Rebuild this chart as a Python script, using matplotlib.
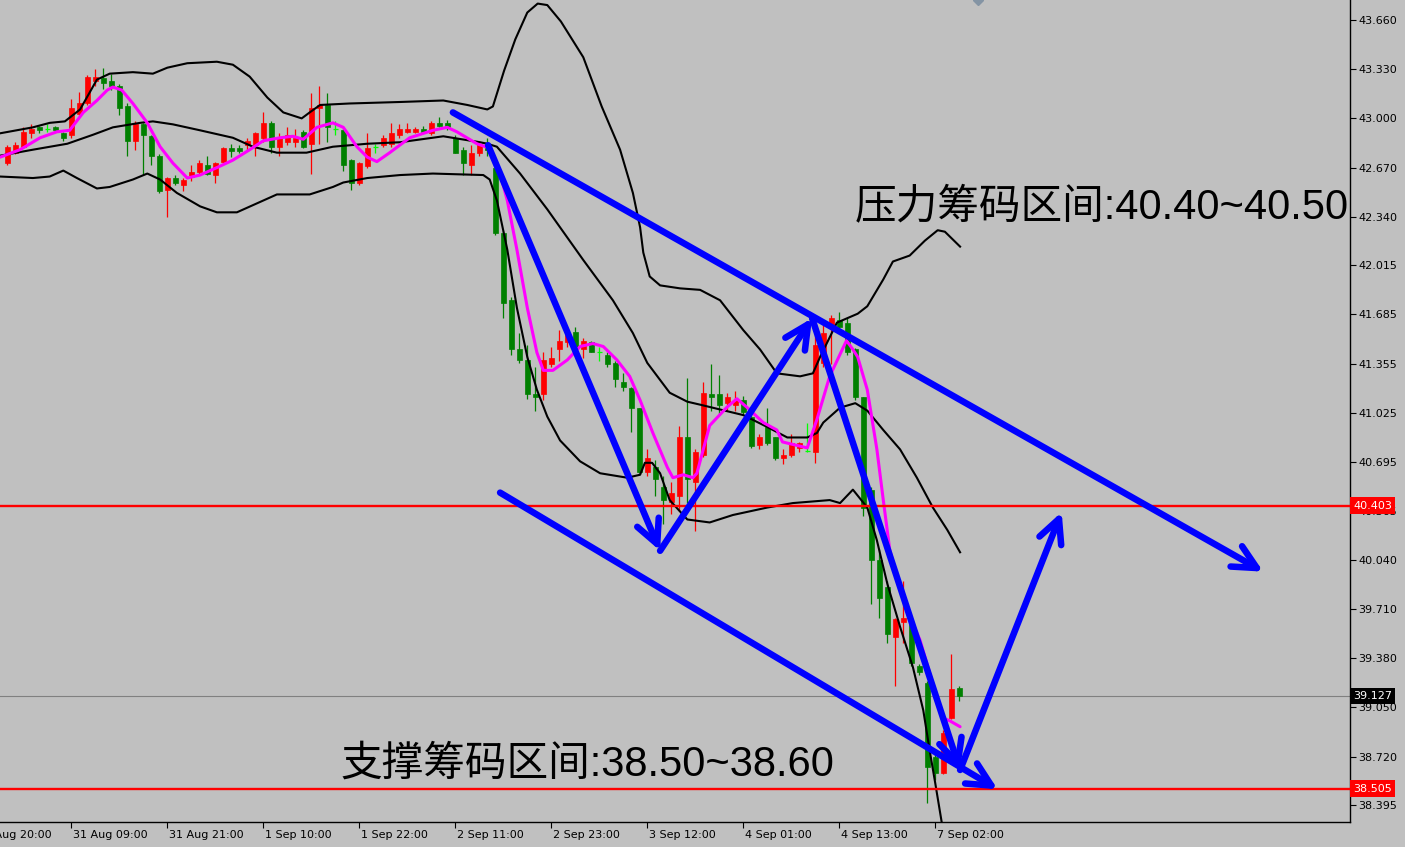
import matplotlib
matplotlib.use("Agg")
import matplotlib.pyplot as plt
import matplotlib.transforms as mtransforms

# H1 candles, bar 0 = first full bar at the left edge
opens = [42.70, 42.77, 42.81, 42.90, 42.94, 42.93, 42.94, 42.90, 42.89, 43.03,
         43.10, 43.25, 43.27, 43.25, 43.22, 43.08, 42.85, 42.96, 42.88, 42.75,
         42.52, 42.60, 42.55, 42.61, 42.64, 42.69, 42.62, 42.71, 42.80, 42.80,
         42.82, 42.82, 42.87, 42.97, 42.81, 42.84, 42.84, 42.91, 42.83, 43.07,
         43.09, 42.93, 42.92, 42.72, 42.57, 42.68, 42.81, 42.82, 42.83, 42.89,
         42.91, 42.91, 42.93, 42.90, 42.97, 42.97, 42.87, 42.79, 42.69, 42.77,
         42.83, 42.67, 42.23, 41.78, 41.45, 41.38, 41.15, 41.15, 41.35, 41.45,
         41.50, 41.57, 41.45, 41.50, 41.43, 41.41, 41.36, 41.23, 41.19, 41.06,
         40.63, 40.66, 40.53, 40.43, 40.47, 40.86, 40.56, 40.74, 41.15, 41.15,
         41.09, 41.08, 41.11, 41.00, 40.81, 40.93, 40.86, 40.72, 40.74, 40.79,
         40.77, 40.76, 41.36, 41.60, 41.65, 41.63, 41.45, 41.13, 40.51, 40.04,
         39.86, 39.52, 39.62, 39.62, 39.33, 39.21, 38.72, 38.61, 38.98, 39.18]
highs = [42.82, 42.84, 42.94, 42.96, 42.95, 42.96, 42.95, 42.91, 43.13, 43.18,
         43.29, 43.33, 43.34, 43.30, 43.23, 43.10, 42.98, 42.97, 42.89, 42.76,
         42.61, 42.62, 42.60, 42.69, 42.72, 42.75, 42.71, 42.81, 42.83, 42.82,
         42.87, 42.91, 43.04, 42.98, 42.90, 42.94, 42.93, 42.92, 43.17, 43.22,
         43.17, 42.98, 42.93, 42.73, 42.71, 42.90, 42.83, 42.89, 42.97, 42.96,
         42.97, 42.94, 42.95, 42.98, 43.01, 42.99, 42.89, 42.81, 42.82, 42.85,
         42.87, 42.72, 42.25, 41.80, 41.56, 41.48, 41.33, 41.43, 41.47, 41.58,
         41.58, 41.60, 41.53, 41.51, 41.47, 41.43, 41.37, 41.29, 41.20, 41.06,
         40.78, 40.71, 40.60, 40.56, 40.94, 41.26, 40.78, 41.23, 41.35, 41.28,
         41.16, 41.17, 41.14, 41.02, 40.88, 41.06, 40.86, 40.78, 40.88, 40.83,
         40.96, 41.62, 41.65, 41.68, 41.70, 41.66, 41.46, 41.13, 40.53, 40.11,
         39.90, 39.65, 39.90, 39.64, 39.34, 39.23, 38.74, 38.90, 39.41, 39.19]
lows = [42.69, 42.76, 42.80, 42.87, 42.90, 42.91, 42.91, 42.85, 42.87, 43.02,
        43.09, 43.22, 43.20, 43.19, 43.02, 42.75, 42.79, 42.62, 42.69, 42.50,
        42.34, 42.55, 42.51, 42.58, 42.63, 42.62, 42.57, 42.70, 42.74, 42.77,
        42.79, 42.75, 42.84, 42.77, 42.75, 42.82, 42.81, 42.80, 42.63, 42.83,
        42.84, 42.89, 42.65, 42.52, 42.55, 42.67, 42.77, 42.81, 42.81, 42.87,
        42.90, 42.90, 42.90, 42.89, 42.94, 42.92, 42.77, 42.62, 42.62, 42.75,
        42.75, 42.22, 41.66, 41.41, 41.36, 41.12, 41.04, 41.11, 41.33, 41.37,
        41.47, 41.45, 41.39, 41.43, 41.37, 41.33, 41.20, 41.17, 40.90, 40.62,
        40.60, 40.47, 40.28, 40.35, 40.37, 40.42, 40.23, 40.73, 41.04, 41.02,
        41.04, 41.04, 41.01, 40.79, 40.78, 40.81, 40.71, 40.68, 40.73, 40.76,
        40.76, 40.69, 41.33, 41.35, 41.58, 41.41, 41.11, 40.33, 39.74, 39.65,
        39.48, 39.19, 39.48, 39.33, 39.27, 38.41, 38.56, 38.60, 38.97, 39.09]
closes = [42.81, 42.82, 42.91, 42.93, 42.92, 42.93, 42.92, 42.87, 43.07, 43.10,
          43.28, 43.28, 43.24, 43.22, 43.07, 42.85, 42.96, 42.89, 42.75, 42.51,
          42.60, 42.57, 42.59, 42.64, 42.70, 42.63, 42.70, 42.80, 42.78, 42.78,
          42.85, 42.90, 42.97, 42.81, 42.87, 42.89, 42.87, 42.81, 43.07, 43.09,
          42.94, 42.93, 42.69, 42.57, 42.70, 42.80, 42.81, 42.87, 42.90, 42.93,
          42.93, 42.93, 42.91, 42.97, 42.95, 42.94, 42.77, 42.70, 42.77, 42.83,
          42.79, 42.23, 41.76, 41.45, 41.38, 41.15, 41.13, 41.38, 41.39, 41.51,
          41.55, 41.47, 41.51, 41.43, 41.43, 41.35, 41.25, 41.20, 41.06, 40.63,
          40.72, 40.58, 40.44, 40.49, 40.86, 40.58, 40.76, 41.16, 41.13, 41.08,
          41.13, 41.11, 41.03, 40.80, 40.86, 40.82, 40.72, 40.74, 40.82, 40.82,
          40.77, 41.48, 41.56, 41.66, 41.60, 41.43, 41.13, 40.39, 40.04, 39.78,
          39.54, 39.64, 39.65, 39.35, 39.29, 38.65, 38.61, 38.88, 39.17, 39.127]

# bollinger bands + fast MA, traced as (bar, price)
upper_x = [-0.9, 3.2, 5.3, 7.2, 9.1, 11.2, 12.8, 15.7, 18.2, 20.0, 22.5, 26.2, 28.2, 30.3,
           32.5, 34.5, 36.8, 37.8, 39.1, 42.8, 49.1, 54.5, 57.5, 60.0, 60.7, 62.1, 63.5,
           65.0, 66.3, 67.5, 69.2, 72.0, 74.3, 76.6, 78.2, 79.1, 79.5, 80.3, 81.6, 84.1,
           86.6, 89.1, 92.0, 94.1, 96.2, 99.1, 100.7, 101.6, 103.7, 106.3, 107.5, 109.5,
           110.7, 112.8, 114.7, 116.3, 117.2, 119.1]
upper_y = [42.90, 42.94, 42.97, 42.98, 43.06, 43.26, 43.30, 43.31, 43.30, 43.34, 43.37,
           43.38, 43.36, 43.28, 43.14, 43.04, 43.00, 43.04, 43.09, 43.10, 43.11, 43.12,
           43.09, 43.06, 43.08, 43.32, 43.53, 43.71, 43.77, 43.76, 43.65, 43.41, 43.08,
           42.79, 42.50, 42.27, 42.10, 41.94, 41.88, 41.86, 41.85, 41.78, 41.58, 41.45,
           41.29, 41.27, 41.29, 41.40, 41.63, 41.69, 41.74, 41.92, 42.04, 42.08, 42.18,
           42.25, 42.24, 42.14]
mid_x = [-0.9, 3.2, 7.5, 10.7, 13.2, 16.6, 18.2, 20.7, 24.1, 28.2, 30.7, 33.7, 37.4, 40.7,
         45.0, 49.1, 54.5, 59.1, 60.0, 61.2, 64.1, 67.5, 72.0, 75.7, 78.2, 80.0, 82.8, 85.0,
         86.6, 92.0, 95.0, 97.5, 100.0, 101.2, 102.0, 104.1, 106.0, 107.5, 109.5, 111.6,
         113.7, 115.7, 117.5, 119.1]
mid_y = [42.75, 42.79, 42.83, 42.89, 42.94, 42.97, 42.98, 42.96, 42.92, 42.87, 42.81,
         42.77, 42.77, 42.81, 42.83, 42.84, 42.88, 42.84, 42.83, 42.81, 42.63, 42.39,
         42.05, 41.78, 41.56, 41.36, 41.16, 41.10, 41.08, 41.01, 40.93, 40.86, 40.86,
         40.89, 40.96, 41.06, 41.09, 41.04, 40.91, 40.78, 40.59, 40.39, 40.24, 40.09]
low_x = [-0.9, 3.2, 5.3, 7.0, 8.7, 11.2, 12.8, 15.7, 17.5, 19.1, 21.2, 24.1, 26.2, 28.7,
         31.2, 33.7, 37.8, 40.7, 42.0, 45.0, 49.1, 53.2, 59.5, 60.3, 61.2, 62.5, 63.7, 65.0,
         66.2, 67.5, 69.1, 71.6, 74.1, 77.5, 79.1, 79.7, 80.6, 81.6, 82.8, 85.0, 87.8, 90.7,
         95.0, 98.2, 102.8, 104.1, 105.7, 107.5, 108.7, 110.0, 111.6, 113.2, 114.5, 115.3,
         116.0, 116.8]
low_y = [42.61, 42.60, 42.61, 42.65, 42.60, 42.53, 42.54, 42.59, 42.63, 42.59, 42.50,
         42.41, 42.37, 42.37, 42.43, 42.49, 42.49, 42.54, 42.57, 42.60, 42.62, 42.63,
         42.62, 42.59, 42.45, 42.12, 41.73, 41.40, 41.18, 41.00, 40.84, 40.70, 40.62,
         40.59, 40.61, 40.69, 40.69, 40.62, 40.44, 40.31, 40.29, 40.34, 40.39, 40.42,
         40.44, 40.42, 40.51, 40.39, 40.17, 39.88, 39.59, 39.32, 39.03, 38.76, 38.54, 38.28]
ma_x = [-0.9, 1.6, 4.1, 6.2, 7.8, 9.5, 11.2, 12.5, 13.2, 14.3, 15.7, 17.5, 19.1, 20.7, 22.5,
        24.1, 26.2, 28.2, 30.3, 32.0, 34.1, 35.7, 37.0, 38.7, 40.7, 42.0, 43.7, 45.0, 46.2,
        47.8, 50.3, 53.2, 55.0, 56.2, 58.7, 60.3, 61.6, 62.5, 63.7, 65.0, 66.2, 67.0, 68.2,
        70.0, 71.6, 73.2, 74.5, 76.2, 77.8, 79.1, 80.7, 82.5, 83.2, 84.5, 85.7, 86.2, 87.8,
        89.9, 91.2, 92.5, 94.5, 96.2, 96.9, 100.0, 101.2, 102.8, 104.9, 105.7, 106.3, 107.5,
        108.7, 109.5, 110.3, 111.6, 112.8, 114.1, 115.3, 116.2, 116.9, 117.8, 119.1]
ma_y = [42.74, 42.79, 42.87, 42.91, 42.92, 43.04, 43.12, 43.19, 43.21, 43.19, 43.10, 42.97,
        42.81, 42.70, 42.60, 42.62, 42.67, 42.72, 42.79, 42.85, 42.87, 42.88, 42.86, 42.94,
        42.97, 42.94, 42.81, 42.74, 42.71, 42.77, 42.87, 42.92, 42.94, 42.91, 42.83, 42.80,
        42.63, 42.45, 42.12, 41.73, 41.43, 41.31, 41.31, 41.38, 41.47, 41.49, 41.47, 41.38,
        41.27, 41.11, 40.89, 40.66, 40.59, 40.61, 40.59, 40.62, 40.94, 41.06, 41.12, 41.06,
        40.96, 40.91, 40.83, 40.79, 40.98, 41.27, 41.51, 41.45, 41.40, 41.18, 40.78, 40.44,
        40.11, 39.84, 39.66, 39.50, 39.28, 39.10, 38.98, 38.96, 38.92]

# hand drawn arrows (bar, price)
resist_arrow_x = [55.7, 157.0]
resist_arrow_y = [43.04, 39.96]
zigzag_x = [60.1, 81.6, 100.6, 119.1, 131.8]
zigzag_y = [42.82, 40.10, 41.66, 38.63, 40.36]
support_arrow_x = [61.6, 123.8]
support_arrow_y = [40.49, 38.50]

resist_level = 40.403
support_level = 38.505
last_price = 39.127

price_ticks = [43.660, 43.330, 43.000, 42.670, 42.340, 42.015, 41.685, 41.355, 41.025,
               40.695, 40.365, 40.040, 39.710, 39.380, 39.050, 38.720, 38.395]
date_pos = [-4, 8, 20, 32, 44, 56, 68, 80, 92, 104, 116]
date_labels = ["30 Aug 20:00", "31 Aug 09:00", "31 Aug 21:00", "1 Sep 10:00", "1 Sep 22:00",
               "2 Sep 11:00", "2 Sep 23:00", "3 Sep 12:00", "4 Sep 01:00", "4 Sep 13:00",
               "7 Sep 02:00"]

BG = "#c0c0c0"
CJK = ["Liberation Sans", "Noto Sans CJK SC", "DejaVu Sans"]

fig = plt.figure(figsize=(14.05, 8.47), dpi=100, facecolor=BG)
ax = fig.add_axes([0, 25 / 847, 1350 / 1405, 822 / 847], facecolor=BG)

# candles: red = up, green = down, lime = doji
for i, (o, h, l, c) in enumerate(zip(opens, highs, lows, closes)):
    if c > o:
        col = "#ff0000"
    elif c < o:
        col = "#008000"
    else:
        col = "#00ff00"
    ax.vlines(i, l, h, color=col, lw=0.9, zorder=2)
    if c == o:
        ax.hlines(o, i - 0.31, i + 0.31, color=col, lw=0.9, zorder=2)
    else:
        ax.bar(i, c - o, bottom=o, width=0.62, color=col, edgecolor=col, lw=0.5, zorder=2)

ax.plot(upper_x, upper_y, color="black", lw=1.5, zorder=3)
ax.plot(mid_x, mid_y, color="black", lw=1.5, zorder=3)
ax.plot(low_x, low_y, color="black", lw=1.5, zorder=3)
ax.plot(ma_x, ma_y, color="#ff00ff", lw=2.2, zorder=3, solid_capstyle="round")

ax.axhline(last_price, color="#808080", lw=0.8, zorder=1)
ax.axhline(resist_level, color="#ff0000", lw=1.7, zorder=4)
ax.axhline(support_level, color="#ff0000", lw=1.7, zorder=4)

aprops = dict(arrowstyle="->,head_length=0.85,head_width=0.42", color="#0000ff", lw=4.7,
              shrinkA=0, shrinkB=0, mutation_scale=20, capstyle="round", joinstyle="round")


def draw_arrows(xs, ys):
    for k in range(len(xs) - 1):
        ax.annotate("", xy=(xs[k + 1], ys[k + 1]), xytext=(xs[k], ys[k]),
                    arrowprops=aprops, zorder=5)


draw_arrows(resist_arrow_x, resist_arrow_y)
draw_arrows(zigzag_x, zigzag_y)
draw_arrows(support_arrow_x, support_arrow_y)

ax.text(105.96, 42.406, "压力筹码区间:40.40~40.50", fontsize=30, family=CJK,
        ha="left", va="center", zorder=6)
ax.text(41.59, 38.663, "支撑筹码区间:38.50~38.60", fontsize=30, family=CJK,
        ha="left", va="center", zorder=6)

ax.set_xlim(-0.9125, 167.84)
ax.set_ylim(38.281, 43.794)

ax.yaxis.tick_right()
ax.set_yticks(price_ticks)
ax.set_yticklabels([f"{v:.3f}" for v in price_ticks])
ax.tick_params(axis="y", direction="out", length=4, width=0.8, pad=2, labelsize=8)
ax.set_xticks(date_pos[1:])
ax.set_xticklabels([])
ax.tick_params(axis="x", direction="out", length=4, width=0.8)

dtrans = mtransforms.blended_transform_factory(ax.transData, ax.transAxes)
for p, lab in zip(date_pos, date_labels):
    ax.text(p + 0.2, -0.016, lab, transform=dtrans, ha="left", va="center",
            fontsize=8, clip_on=False)

for s in ["top", "left"]:
    ax.spines[s].set_visible(False)
for s in ["right", "bottom"]:
    ax.spines[s].set_linewidth(1)

# price tags on the right scale
ptrans = mtransforms.blended_transform_factory(ax.transAxes, ax.transData)
for lvl, fc in [(resist_level, "#ff0000"), (last_price, "#000000"), (support_level, "#ff0000")]:
    ax.text(1.0 + 3 / 1350, lvl, f"{lvl:.3f}", transform=ptrans, color="white", fontsize=8,
            ha="left", va="center", clip_on=False, zorder=10,
            bbox=dict(boxstyle="square,pad=0.3", fc=fc, ec="none"))

# chart shift marker at the top
ax.plot([121.3], [43.794], marker="D", ms=5, color="#8494a4", zorder=6)

fig.savefig("out.png", dpi=100, facecolor=BG)
